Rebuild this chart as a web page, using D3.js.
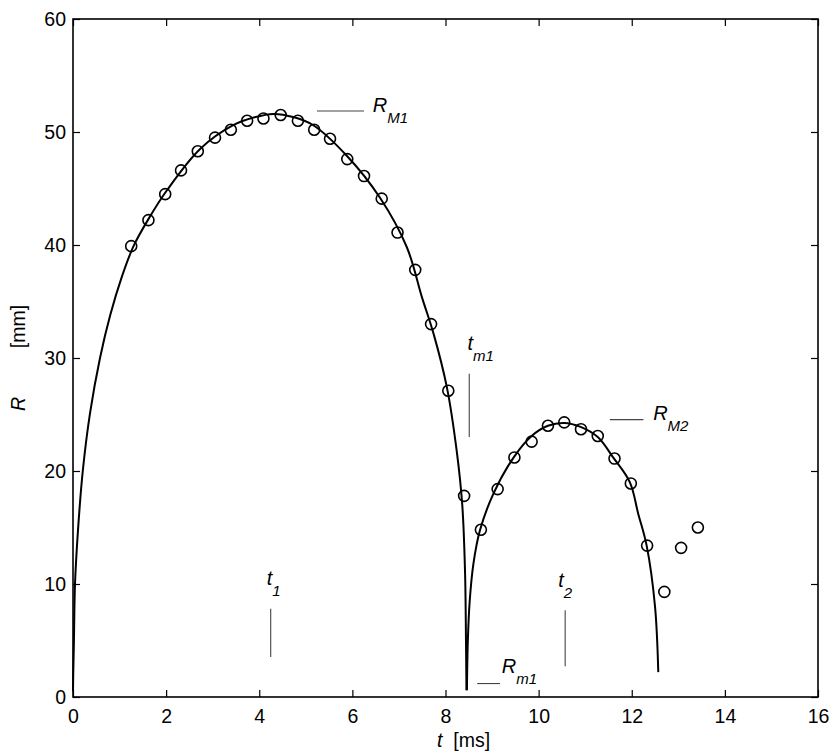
<!DOCTYPE html>
<meta charset="utf-8">
<script src="https://d3js.org/d3.v7.min.js"></script>
<style>
  body { margin: 0; background: #fff; }
  text { font-family: "Liberation Sans", Arial, Helvetica, sans-serif; }
</style>
<div id="chart"></div>
<script>
// measured points (circles)
var pointT = [1.25, 1.62, 1.98, 2.32, 2.68, 3.05, 3.39, 3.74, 4.09, 4.46, 4.83, 5.18, 5.52, 5.89, 6.25, 6.63, 6.97, 7.35,
              7.69, 8.06, 8.40, 8.76, 9.12, 9.48, 9.85, 10.20, 10.55, 10.91, 11.27, 11.63, 11.98, 12.33, 12.70, 13.06, 13.42];
var pointR = [39.9, 42.2, 44.5, 46.6, 48.3, 49.5, 50.2, 51.0, 51.2, 51.5, 51.0, 50.2, 49.4, 47.6, 46.1, 44.1, 41.1, 37.8,
              33.0, 27.1, 17.8, 14.8, 18.4, 21.2, 22.6, 24.0, 24.3, 23.7, 23.1, 21.1, 18.9, 13.4, 9.3, 13.2, 15.0];

// fitted curve, first bubble oscillation
var fit1T = [0.0, 0.005, 0.02, 0.043, 0.107, 0.21, 0.365, 0.58, 0.8, 1.05, 1.3, 1.65, 2.01, 2.73, 3.44, 3.9, 4.3, 4.75, 5.16,
             5.88, 6.59, 7.17, 7.5, 7.74, 8.03, 8.24, 8.36, 8.42, 8.44, 8.45];
var fit1R = [0.5, 2.0, 5.0, 10.0, 14.75, 20.0, 25.1, 30.0, 33.8, 37.2, 39.9, 42.5, 44.8, 48.5, 50.6, 51.3, 51.6, 51.3, 50.6,
             47.9, 44.2, 39.8, 35.3, 32.2, 27.4, 21.8, 17.0, 11.0, 5.0, 0.6];
// fitted curve, second oscillation
var fit2T = [8.46, 8.48, 8.52, 8.6, 8.74, 9.03, 9.48, 9.85, 10.2, 10.55, 10.9, 11.27, 11.6, 11.96, 12.14, 12.32, 12.5, 12.57];
var fit2R = [0.6, 5.0, 8.5, 11.8, 14.75, 18.0, 21.3, 23.1, 24.0, 24.25, 23.9, 23.0, 21.2, 19.0, 16.2, 13.4, 8.0, 2.2];

var xTicks = [0, 2, 4, 6, 8, 10, 12, 14, 16];
var yTicks = [0, 10, 20, 30, 40, 50, 60];

// annotations: label, subscript, text anchor (t,R), marker line [t0,R0,t1,R1]
var annoName = ["R", "t", "R", "t", "t", "R"];
var annoSub  = ["M1", "m1", "M2", "1", "2", "m1"];
var annoAt   = [[6.44, 51.8], [8.47, 30.7], [12.46, 24.5], [4.16, 9.9], [10.42, 9.7], [9.21, 2.1]];
var annoLine = [[5.24, 51.86, 6.25, 51.86], [8.51, 28.6, 8.51, 23.0], [11.53, 24.55, 12.25, 24.55],
                [4.246, 7.82, 4.246, 3.54], [10.57, 7.67, 10.57, 2.72], [8.68, 1.19, 9.17, 1.19]];

var margin = {top: 19, right: 15, bottom: 57, left: 73},
    width = 833 - margin.left - margin.right,
    height = 754 - margin.top - margin.bottom;

var svg = d3.select("#chart").append("svg")
    .attr("width", 833).attr("height", 754)
  .append("g")
    .attr("transform", "translate(" + margin.left + "," + margin.top + ")");

var x = d3.scaleLinear().domain([0, 16]).range([0, width]);
var y = d3.scaleLinear().domain([0, 60]).range([height, 0]);

// axes with inward ticks, MATLAB style box
var xAxis = svg.append("g")
    .attr("transform", "translate(0," + height + ")")
    .call(d3.axisBottom(x).tickValues(xTicks).tickSizeInner(-7).tickSizeOuter(0).tickPadding(12));
var yAxis = svg.append("g")
    .call(d3.axisLeft(y).tickValues(yTicks).tickSizeInner(-7).tickSizeOuter(0).tickPadding(7));
svg.append("g")
    .call(d3.axisTop(x).tickValues(xTicks).tickSizeInner(-7).tickSizeOuter(0).tickFormat(""));
svg.append("g")
    .attr("transform", "translate(" + width + ",0)")
    .call(d3.axisRight(y).tickValues(yTicks).tickSizeInner(-7).tickSizeOuter(0).tickFormat(""));

svg.selectAll(".domain").remove();
svg.selectAll(".tick line").attr("stroke", "#000").attr("stroke-width", 1.2);
svg.selectAll(".tick text").attr("fill", "#000").style("font-size", "19.5px")
   .style("font-family", "'Liberation Sans', Arial, sans-serif");

svg.append("rect")
    .attr("width", width).attr("height", height)
    .attr("fill", "none").attr("stroke", "#000").attr("stroke-width", 1.6);

// axis labels
var xl = svg.append("text")
    .attr("x", x(7.82)).attr("y", height + 50)
    .style("font-size", "19.5px");
xl.append("tspan").style("font-style", "italic").text("t");
xl.append("tspan").attr("xml:space", "preserve").text("  [ms]");

var yl = svg.append("text")
    .attr("transform", "translate(" + (-48) + "," + y(30) + ")rotate(-90)")
    .attr("text-anchor", "middle")
    .style("font-size", "19.5px");
yl.append("tspan").style("font-style", "italic").text("R");
yl.append("tspan").attr("xml:space", "preserve").text("         [mm]");

// fitted curves
var line = d3.line()
    .x(function(d) { return x(d[0]); })
    .y(function(d) { return y(d[1]); })
    .curve(d3.curveCatmullRom.alpha(0.5));

[[fit1T, fit1R], [fit2T, fit2R]].forEach(function(s) {
  svg.append("path")
    .datum(d3.zip(s[0], s[1]))
    .attr("d", line)
    .attr("fill", "none")
    .attr("stroke", "#000")
    .attr("stroke-width", 2);
});

// circles
svg.selectAll("circle")
  .data(d3.zip(pointT, pointR))
  .enter()
  .append("circle")
    .attr("cx", function(d) { return x(d[0]); })
    .attr("cy", function(d) { return y(d[1]); })
    .attr("r", 5.5)
    .attr("fill", "none")
    .attr("stroke", "#000")
    .attr("stroke-width", 1.6);

// annotations
annoLine.forEach(function(l) {
  svg.append("line")
    .attr("x1", x(l[0])).attr("y1", y(l[1]))
    .attr("x2", x(l[2])).attr("y2", y(l[3]))
    .attr("stroke", "#444").attr("stroke-width", 1.1);
});

annoName.forEach(function(n, i) {
  var t = svg.append("text")
    .attr("x", x(annoAt[i][0])).attr("y", y(annoAt[i][1]))
    .style("font-style", "italic")
    .style("font-size", "20px");
  t.append("tspan").text(n);
  t.append("tspan").attr("dy", 11).style("font-size", "15px").text(annoSub[i]);
});
</script>
